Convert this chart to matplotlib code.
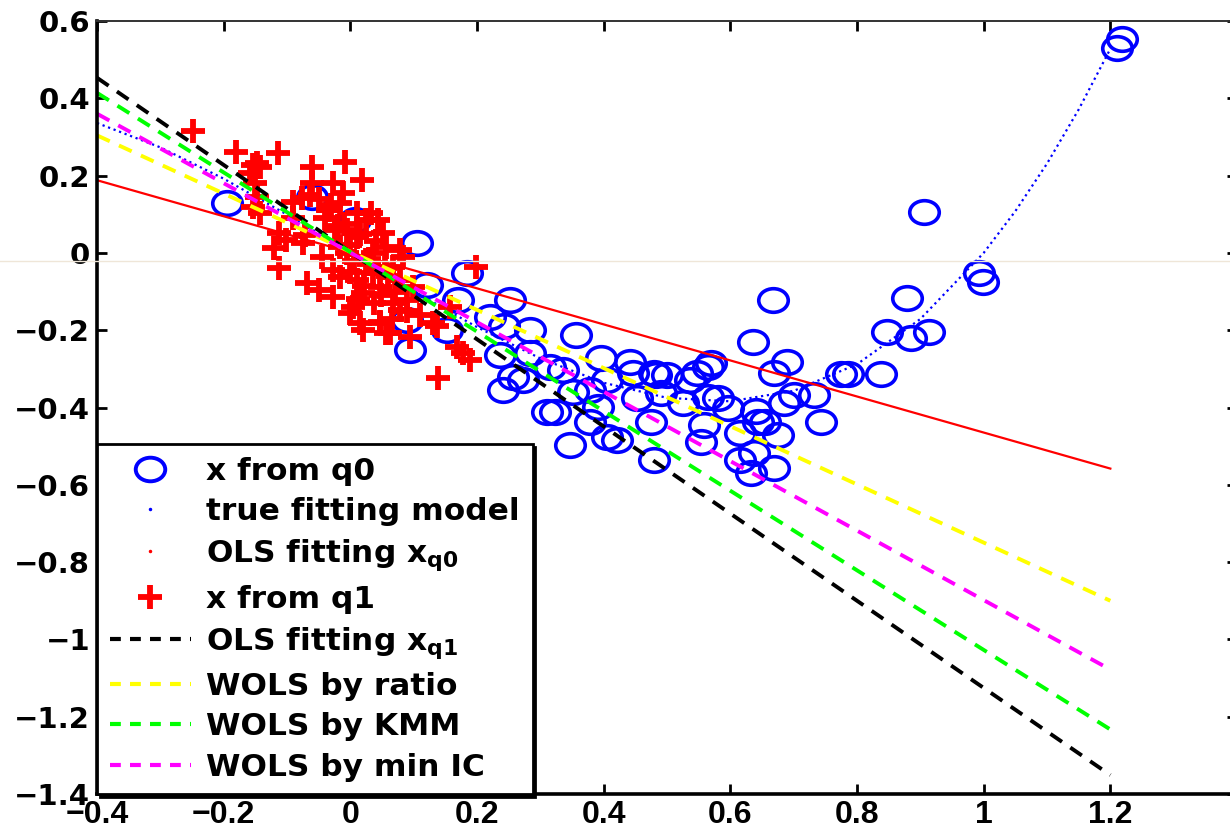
import matplotlib
matplotlib.use('Agg')
import matplotlib.pyplot as plt
from matplotlib.lines import Line2D
from matplotlib.markers import MarkerStyle
from matplotlib.transforms import Affine2D

plt.rcParams['mathtext.fontset'] = 'dejavusans'
plt.rcParams['mathtext.default'] = 'bf'

# samples drawn from q0 (blue circles)
q0_x = [-0.195, -0.061, 0.007, 0.105, 0.184, 0.121, 0.089, 0.094, 0.152, 0.170,
        0.252, 0.221, 0.242, 0.284, 0.357, 0.236, 0.284, 0.257, 0.241, 0.315,
        0.336, 0.273, 0.395, 0.406, 0.442, 0.447, 0.482, 0.490, 0.453, 0.310,
        0.323, 0.391, 0.379, 0.347, 0.406, 0.421, 0.474, 0.479, 0.479, 0.500,
        0.537, 0.548, 0.564, 0.569, 0.526, 0.564, 0.580, 0.596, 0.640, 0.643,
        0.655, 0.616, 0.675, 0.558, 0.553, 0.616, 0.637, 0.669, 0.632, 0.667,
        0.635, 0.690, 0.669, 0.775, 0.785, 0.732, 0.700, 0.685, 0.743, 0.838,
        0.848, 0.914, 0.886, 0.879, 0.906, 0.993, 0.999, 1.210, 1.218, 0.379,
        0.352]
q0_y = [0.129, 0.145, 0.085, 0.026, -0.052, -0.083, -0.173, -0.251, -0.199, -0.122,
        -0.122, -0.165, -0.190, -0.200, -0.212, -0.264, -0.259, -0.320, -0.354, -0.295,
        -0.303, -0.328, -0.272, -0.328, -0.282, -0.310, -0.315, -0.362, -0.375, -0.411,
        -0.411, -0.398, -0.437, -0.497, -0.476, -0.484, -0.437, -0.535, -0.310, -0.315,
        -0.328, -0.310, -0.295, -0.285, -0.388, -0.372, -0.376, -0.400, -0.410, -0.437,
        -0.437, -0.466, -0.470, -0.445, -0.488, -0.535, -0.517, -0.556, -0.569, -0.122,
        -0.230, -0.282, -0.310, -0.313, -0.313, -0.367, -0.367, -0.388, -0.437, -0.313,
        -0.204, -0.204, -0.220, -0.116, 0.106, -0.052, -0.075, 0.530, 0.553, -0.354,
        -0.360]

# samples drawn from q1 (red crosses)
q1_x = [-0.249, -0.180, -0.115, -0.154, -0.143, -0.159, -0.060, -0.009, 0.018, -0.028,
        -0.151, -0.077, -0.091, -0.064, -0.148, -0.154, -0.143, -0.012, -0.017, -0.033,
        0.033, 0.043, -0.112, -0.101, -0.072, -0.075, -0.120, -0.112, -0.045, -0.017,
        -0.006, 0.010, 0.051, 0.057, 0.078, 0.083, -0.069, -0.049, -0.028, -0.028,
        -0.017, 0.010, 0.020, 0.004, 0.035, 0.046, -0.001, 0.015, 0.020, 0.046,
        0.057, 0.067, 0.078, 0.089, 0.078, 0.067, 0.094, 0.131, 0.168, 0.178,
        0.189, 0.199, 0.139, 0.099, 0.025, 0.035, 0.010, 0.025, -0.148, 0.157,
        0.136, 0.046, 0.062, -0.020, 0.000, 0.030, -0.040, 0.060, -0.090, 0.005,
        -0.035, -0.010, 0.015, 0.040, -0.050, -0.025, 0.000, 0.022, 0.048, 0.070,
        -0.005, 0.030, 0.055, -0.060, -0.030, 0.012, 0.038, 0.065, 0.090, 0.110]
q1_y = [0.315, 0.261, 0.258, 0.228, 0.222, 0.207, 0.223, 0.235, 0.189, 0.181,
        0.181, 0.142, 0.132, 0.150, 0.145, 0.119, 0.103, 0.155, 0.129, 0.111,
        0.103, 0.085, 0.052, 0.034, 0.047, 0.026, 0.013, -0.039, -0.010, 0.016,
        0.059, 0.041, 0.052, 0.016, 0.008, -0.010, -0.078, -0.096, -0.114, -0.044,
        -0.062, -0.070, -0.103, -0.140, -0.052, -0.088, -0.155, -0.181, -0.199, -0.181,
        -0.207, -0.129, -0.147, -0.122, -0.070, -0.036, -0.217, -0.181, -0.243, -0.259,
        -0.277, -0.036, -0.323, -0.088, -0.018, 0.000, 0.103, 0.085, 0.232, -0.140,
        -0.190, -0.180, -0.207, 0.070, 0.020, -0.030, 0.090, -0.060, 0.090, -0.020,
        0.110, 0.075, 0.050, 0.030, 0.140, 0.060, -0.050, -0.085, -0.110, -0.100,
        0.000, -0.015, -0.040, 0.180, 0.125, -0.120, -0.130, -0.170, -0.150, -0.160]

# true fitting model curve
true_x = [-0.4, -0.3, -0.2, -0.1, 0.0, 0.1, 0.2, 0.3, 0.4, 0.5, 0.6,
          0.7, 0.8, 0.9, 1.0, 1.05, 1.1, 1.15, 1.2]
true_y = [0.336, 0.273, 0.192, 0.099, 0.0, -0.099, -0.192, -0.273, -0.336, -0.375, -0.384,
          -0.357, -0.288, -0.171, 0.0, 0.108, 0.231, 0.371, 0.528]

# fitted lines, endpoints at x = -0.4 and x = 1.2
line_x = [-0.4, 1.2]
ols_q0_y = [0.188, -0.558]
ols_q1_y = [0.453, -1.351]
ratio_y = [0.304, -0.900]
kmm_y = [0.414, -1.233]
minic_y = [0.360, -1.078]

x_ticks = [-0.4, -0.2, 0, 0.2, 0.4, 0.6, 0.8, 1.0, 1.2]
x_labels = ['\u22120.4', '\u22120.2', '0', '0.2', '0.4', '0.6', '0.8', '1', '1.2']
y_ticks = [-1.4, -1.2, -1.0, -0.8, -0.6, -0.4, -0.2, 0, 0.2, 0.4, 0.6]
y_labels = ['\u22121.4', '\u22121.2', '\u22121', '\u22120.8', '\u22120.6', '\u22120.4',
            '\u22120.2', '0', '0.2', '0.4', '0.6']

legend_labels = ['x from q0', 'true fitting model', r'OLS fitting $x_{q0}$', 'x from q1',
                 r'OLS fitting $x_{q1}$', 'WOLS by ratio', 'WOLS by KMM', 'WOLS by min IC']

BLUE = (0, 0, 1)
RED = (1, 0, 0)
YELLOW = (1, 1, 0)
GREEN = (0, 1, 0)
MAGENTA = (1, 0, 1)

fig = plt.figure(figsize=(12.3, 8.36), dpi=100)
ax = fig.add_axes([0.0789, 0.0502, 0.9268, 0.9247])

circle = MarkerStyle('o', transform=Affine2D().scale(1.25, 1.0))
dash_kw = dict(lw=2.8, dashes=(3.6, 2.6))

ax.plot(q0_x, q0_y, linestyle='none', marker=circle, ms=17, mfc='none', mec=BLUE, mew=2.6)
ax.plot(true_x, true_y, ':', color=BLUE, lw=1.6)
ax.plot(line_x, ols_q0_y, '-', color=RED, lw=1.6)
ax.plot(q1_x, q1_y, linestyle='none', marker='+', ms=17, mec=RED, mew=4.2)
ax.plot(line_x, ols_q1_y, '--', color='black', **dash_kw)
ax.plot(line_x, ratio_y, '--', color=YELLOW, **dash_kw)
ax.plot(line_x, kmm_y, '--', color=GREEN, **dash_kw)
ax.plot(line_x, minic_y, '--', color=MAGENTA, **dash_kw)

ax.set_xlim(-0.4, 1.4)
ax.set_ylim(-1.4, 0.6)
ax.set_xticks(x_ticks)
ax.set_xticklabels(x_labels, fontsize=23, fontweight='bold',
                   family=['Liberation Sans Narrow', 'Liberation Sans', 'DejaVu Sans'])
ax.set_yticks(y_ticks)
ax.set_yticklabels(y_labels, fontsize=21, fontweight='bold')
ax.tick_params(direction='in', length=7, width=2, top=True, right=True)
ax.tick_params(axis='y', pad=5)
ax.tick_params(axis='x', pad=4)
for side in ['left', 'bottom']:
    ax.spines[side].set_linewidth(2.6)
ax.spines['top'].set_linewidth(1.4)
ax.spines['top'].set_color('#333333')

handles = [
    Line2D([], [], linestyle='none', marker=circle, ms=17, mfc='none', mec=BLUE, mew=2.8),
    Line2D([], [], linestyle='none', marker='.', ms=3, color=BLUE),
    Line2D([], [], linestyle='none', marker='.', ms=3, color=RED),
    Line2D([], [], linestyle='none', marker='+', ms=17, mec=RED, mew=4.2),
    Line2D([], [], color='black', lw=3, dashes=(2.6, 2.2)),
    Line2D([], [], color=YELLOW, lw=3, dashes=(2.6, 2.2)),
    Line2D([], [], color=GREEN, lw=3, dashes=(2.6, 2.2)),
    Line2D([], [], color=MAGENTA, lw=3, dashes=(2.6, 2.2)),
]
leg = ax.legend(handles, legend_labels, loc='lower left', bbox_to_anchor=(0, 0),
                borderaxespad=0, fancybox=False, edgecolor='black', framealpha=1,
                prop={'weight': 'bold', 'size': 22.5}, handlelength=2.6,
                handletextpad=0.5, labelspacing=0.36, borderpad=0.4,
                shadow={'color': 'black', 'alpha': 1})
leg.get_frame().set_linewidth(2)

# faint horizontal scan line across the picture
fig.add_artist(Line2D([0, 1], [1 - 261 / 836, 1 - 261 / 836], transform=fig.transFigure,
                      color='#efe6d8', lw=1))

fig.savefig('out.png', dpi=100)
